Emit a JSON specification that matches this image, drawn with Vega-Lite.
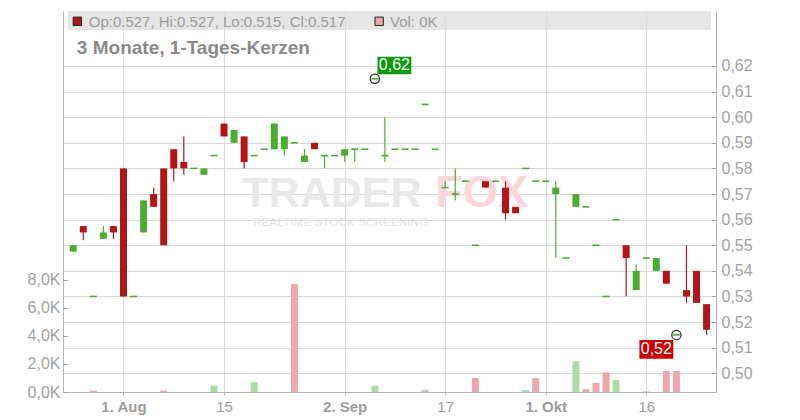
{
  "$schema": "https://vega.github.io/schema/vega-lite/v6.json",
  "width": 653,
  "height": 381,
  "autosize": "none",
  "padding": {"left": 63, "top": 11, "right": 84, "bottom": 28},
  "background": "#ffffff",
  "config": {"view": {"stroke": null}, "font": "Liberation Sans", "axis": {"labelOverlap": false, "labelBound": false, "labelSeparation": 0}},
  "datasets": {
    "candles": [
      {"d":"2024-07-25","i":1,"o":0.5475,"h":0.55,"l":0.5475,"c":0.55,"v":0,"cd":"up","vd":"vup"},
      {"d":"2024-07-26","i":2,"o":0.5575,"h":0.5575,"l":0.552,"c":0.555,"v":0,"cd":"down","vd":"vdown"},
      {"d":"2024-07-29","i":3,"o":0.53,"h":0.53,"l":0.53,"c":0.53,"v":100,"cd":"up","vd":"vdown"},
      {"d":"2024-07-30","i":4,"o":0.5525,"h":0.5575,"l":0.5525,"c":0.555,"v":0,"cd":"up","vd":"vup"},
      {"d":"2024-07-31","i":5,"o":0.5575,"h":0.5575,"l":0.5525,"c":0.555,"v":0,"cd":"down","vd":"vdown"},
      {"d":"2024-08-01","i":6,"o":0.58,"h":0.58,"l":0.53,"c":0.53,"v":0,"cd":"down","vd":"vdown"},
      {"d":"2024-08-02","i":7,"o":0.53,"h":0.53,"l":0.53,"c":0.53,"v":0,"cd":"up","vd":"vup"},
      {"d":"2024-08-05","i":8,"o":0.555,"h":0.5675,"l":0.555,"c":0.5675,"v":0,"cd":"up","vd":"vup"},
      {"d":"2024-08-06","i":9,"o":0.57,"h":0.5725,"l":0.565,"c":0.565,"v":0,"cd":"down","vd":"vdown"},
      {"d":"2024-08-07","i":10,"o":0.58,"h":0.58,"l":0.55,"c":0.55,"v":100,"cd":"down","vd":"vdown"},
      {"d":"2024-08-08","i":11,"o":0.5875,"h":0.5875,"l":0.575,"c":0.58,"v":0,"cd":"down","vd":"vdown"},
      {"d":"2024-08-09","i":12,"o":0.5825,"h":0.5925,"l":0.5775,"c":0.58,"v":0,"cd":"down","vd":"vdown"},
      {"d":"2024-08-12","i":13,"o":0.58,"h":0.58,"l":0.58,"c":0.58,"v":0,"cd":"up","vd":"vup"},
      {"d":"2024-08-13","i":14,"o":0.5775,"h":0.58,"l":0.5775,"c":0.58,"v":0,"cd":"up","vd":"vup"},
      {"d":"2024-08-14","i":15,"o":0.585,"h":0.585,"l":0.585,"c":0.585,"v":450,"cd":"up","vd":"vup"},
      {"d":"2024-08-15","i":16,"o":0.5975,"h":0.5975,"l":0.5925,"c":0.5925,"v":0,"cd":"down","vd":"vdown"},
      {"d":"2024-08-16","i":17,"o":0.59,"h":0.595,"l":0.59,"c":0.595,"v":0,"cd":"up","vd":"vup"},
      {"d":"2024-08-19","i":18,"o":0.5925,"h":0.5925,"l":0.58,"c":0.5825,"v":0,"cd":"down","vd":"vdown"},
      {"d":"2024-08-20","i":19,"o":0.585,"h":0.585,"l":0.585,"c":0.585,"v":700,"cd":"up","vd":"vup"},
      {"d":"2024-08-21","i":20,"o":0.5875,"h":0.5875,"l":0.5875,"c":0.5875,"v":0,"cd":"up","vd":"vup"},
      {"d":"2024-08-22","i":21,"o":0.5875,"h":0.5975,"l":0.5875,"c":0.5975,"v":0,"cd":"up","vd":"vup"},
      {"d":"2024-08-23","i":22,"o":0.5875,"h":0.5925,"l":0.585,"c":0.5925,"v":0,"cd":"up","vd":"vup"},
      {"d":"2024-08-26","i":23,"o":0.59,"h":0.59,"l":0.59,"c":0.59,"v":7700,"cd":"up","vd":"vdown"},
      {"d":"2024-08-27","i":24,"o":0.5825,"h":0.5875,"l":0.5825,"c":0.585,"v":0,"cd":"up","vd":"vup"},
      {"d":"2024-08-28","i":25,"o":0.59,"h":0.59,"l":0.5875,"c":0.5875,"v":0,"cd":"down","vd":"vdown"},
      {"d":"2024-08-29","i":26,"o":0.585,"h":0.585,"l":0.58,"c":0.585,"v":0,"cd":"up","vd":"vup"},
      {"d":"2024-08-30","i":27,"o":0.585,"h":0.585,"l":0.585,"c":0.585,"v":0,"cd":"up","vd":"vup"},
      {"d":"2024-09-02","i":28,"o":0.585,"h":0.5875,"l":0.5825,"c":0.5875,"v":0,"cd":"up","vd":"vup"},
      {"d":"2024-09-03","i":29,"o":0.5875,"h":0.5875,"l":0.5825,"c":0.5875,"v":0,"cd":"up","vd":"vup"},
      {"d":"2024-09-04","i":30,"o":0.5875,"h":0.5875,"l":0.5875,"c":0.5875,"v":0,"cd":"up","vd":"vup"},
      {"d":"2024-09-05","i":31,"o":0.615,"h":0.615,"l":0.615,"c":0.615,"v":450,"cd":"up","vd":"vup"},
      {"d":"2024-09-06","i":32,"o":0.585,"h":0.6,"l":0.5825,"c":0.585,"v":0,"cd":"up","vd":"vup"},
      {"d":"2024-09-09","i":33,"o":0.5875,"h":0.5875,"l":0.5875,"c":0.5875,"v":0,"cd":"up","vd":"vup"},
      {"d":"2024-09-10","i":34,"o":0.5875,"h":0.5875,"l":0.5875,"c":0.5875,"v":0,"cd":"up","vd":"vup"},
      {"d":"2024-09-11","i":35,"o":0.5875,"h":0.5875,"l":0.5875,"c":0.5875,"v":0,"cd":"up","vd":"vup"},
      {"d":"2024-09-12","i":36,"o":0.605,"h":0.605,"l":0.605,"c":0.605,"v":150,"cd":"up","vd":"vup"},
      {"d":"2024-09-13","i":37,"o":0.5875,"h":0.5875,"l":0.5875,"c":0.5875,"v":0,"cd":"up","vd":"vup"},
      {"d":"2024-09-17","i":38,"o":0.5725,"h":0.575,"l":0.5725,"c":0.5725,"v":0,"cd":"up","vd":"vup"},
      {"d":"2024-09-18","i":39,"o":0.57,"h":0.58,"l":0.5675,"c":0.57,"v":0,"cd":"up","vd":"vup"},
      {"d":"2024-09-19","i":40,"o":0.575,"h":0.575,"l":0.575,"c":0.575,"v":0,"cd":"up","vd":"vup"},
      {"d":"2024-09-20","i":41,"o":0.55,"h":0.55,"l":0.55,"c":0.55,"v":1000,"cd":"up","vd":"vdown"},
      {"d":"2024-09-23","i":42,"o":0.575,"h":0.575,"l":0.5725,"c":0.5725,"v":0,"cd":"down","vd":"vdown"},
      {"d":"2024-09-24","i":43,"o":0.575,"h":0.575,"l":0.575,"c":0.575,"v":0,"cd":"up","vd":"vup"},
      {"d":"2024-09-25","i":44,"o":0.5725,"h":0.575,"l":0.56,"c":0.5625,"v":0,"cd":"down","vd":"vdown"},
      {"d":"2024-09-26","i":45,"o":0.565,"h":0.565,"l":0.5625,"c":0.5625,"v":0,"cd":"down","vd":"vdown"},
      {"d":"2024-09-27","i":46,"o":0.58,"h":0.58,"l":0.58,"c":0.58,"v":150,"cd":"up","vd":"vup"},
      {"d":"2024-09-30","i":47,"o":0.575,"h":0.575,"l":0.575,"c":0.575,"v":1000,"cd":"up","vd":"vdown"},
      {"d":"2024-10-01","i":48,"o":0.575,"h":0.575,"l":0.575,"c":0.575,"v":0,"cd":"up","vd":"vup"},
      {"d":"2024-10-02","i":49,"o":0.57,"h":0.575,"l":0.545,"c":0.5725,"v":0,"cd":"up","vd":"vup"},
      {"d":"2024-10-04","i":50,"o":0.545,"h":0.545,"l":0.545,"c":0.545,"v":0,"cd":"up","vd":"vup"},
      {"d":"2024-10-07","i":51,"o":0.565,"h":0.57,"l":0.565,"c":0.57,"v":2200,"cd":"up","vd":"vup"},
      {"d":"2024-10-08","i":52,"o":0.565,"h":0.565,"l":0.565,"c":0.565,"v":200,"cd":"up","vd":"vdown"},
      {"d":"2024-10-09","i":53,"o":0.55,"h":0.55,"l":0.55,"c":0.55,"v":650,"cd":"up","vd":"vdown"},
      {"d":"2024-10-10","i":54,"o":0.53,"h":0.53,"l":0.53,"c":0.53,"v":1400,"cd":"up","vd":"vdown"},
      {"d":"2024-10-11","i":55,"o":0.56,"h":0.56,"l":0.56,"c":0.56,"v":850,"cd":"up","vd":"vup"},
      {"d":"2024-10-14","i":56,"o":0.55,"h":0.55,"l":0.53,"c":0.545,"v":0,"cd":"down","vd":"vdown"},
      {"d":"2024-10-15","i":57,"o":0.5325,"h":0.5425,"l":0.5325,"c":0.54,"v":0,"cd":"up","vd":"vup"},
      {"d":"2024-10-16","i":58,"o":0.545,"h":0.545,"l":0.545,"c":0.545,"v":50,"cd":"up","vd":"vup"},
      {"d":"2024-10-17","i":59,"o":0.54,"h":0.545,"l":0.54,"c":0.545,"v":0,"cd":"up","vd":"vup"},
      {"d":"2024-10-18","i":60,"o":0.54,"h":0.54,"l":0.535,"c":0.535,"v":1500,"cd":"down","vd":"vdown"},
      {"d":"2024-10-21","i":61,"o":0.515,"h":0.515,"l":0.515,"c":0.515,"v":1500,"cd":"up","vd":"vdown"},
      {"d":"2024-10-22","i":62,"o":0.5325,"h":0.55,"l":0.5275,"c":0.53,"v":0,"cd":"down","vd":"vdown"},
      {"d":"2024-10-23","i":63,"o":0.54,"h":0.54,"l":0.5275,"c":0.5275,"v":0,"cd":"down","vd":"vdown"},
      {"d":"2024-10-24","i":64,"o":0.527,"h":0.527,"l":0.515,"c":0.517,"v":0,"cd":"down","vd":"vdown"}
    ],
    "one": [{"n": 1}]
  },
  "resolve": {"scale": {"y": "independent"}, "axis": {"y": "independent"}},
  "layer": [
    {
      "data": {"name": "candles"},
      "transform": [{"filter": "datum.v > 0"}],
      "mark": {"type": "bar", "orient": "vertical", "size": 7},
      "encoding": {
        "x": {"field": "i", "type": "quantitative",
          "scale": {"domain": [0.48, 64.44], "nice": false, "zero": false},
          "axis": {"values": [6, 16, 28, 38, 48, 58],
            "labelExpr": "datum.value == 6 ? '1. Aug' : datum.value == 16 ? '15' : datum.value == 28 ? '2. Sep' : datum.value == 38 ? '17' : datum.value == 48 ? '1. Okt' : '16'",
            "title": null, "grid": true, "gridColor": "#dadada", "domainColor": "#b4b4b4", "tickColor": "#b4b4b4",
            "tickSize": 3, "labelColor": "#9c9c9c", "labelFontSize": 15, "labelFont": "Liberation Sans", "labelPadding": 4,
            "labelFontWeight": {"condition": {"test": "datum.value == 6 || datum.value == 28 || datum.value == 48", "value": "bold"}, "value": "normal"},
            "labelFlush": false, "labelOverlap": false}},
        "y": {"field": "v", "type": "quantitative",
          "scale": {"domain": [0, 27214], "nice": false, "zero": true},
          "axis": {"orient": "left", "values": [0, 2000, 4000, 6000, 8000],
            "labelExpr": "replace(format(datum.value / 1000, '.1f'), '.', ',') + 'K'",
            "title": null, "grid": false, "domainColor": "#b4b4b4", "tickColor": "#a0a0a0", "tickSize": -4, "labelPadding": 7,
            "labelOverlap": false, "labelColor": "#a2a2a2", "labelFontSize": 16, "labelFont": "Liberation Sans"}},
        "color": {"field": "vd", "type": "nominal", "legend": null,
          "scale": {"domain": ["up", "down", "vup", "vdown"], "range": ["#4aad2f", "#b31616", "#abdca6", "#efa6ad"]}}
      }
    },
    {
      "data": {"name": "candles"},
      "transform": [{"filter": "datum.h > datum.l"}],
      "mark": {"type": "rule", "strokeWidth": 0},
      "encoding": {
        "x": {"field": "i", "type": "quantitative"},
        "y": {"field": "l", "type": "quantitative",
          "scale": {"domain": [0.4927, 0.64147], "nice": false, "zero": false},
          "axis": {"orient": "right", "values": [0.5, 0.51, 0.52, 0.53, 0.54, 0.55, 0.56, 0.57, 0.58, 0.59, 0.6, 0.61, 0.62],
            "tickCount": 13,
            "labelExpr": "replace(format(datum.value, '.2f'), '.', ',')",
            "title": null, "grid": true, "gridColor": "#dadada", "domainColor": "#b4b4b4", "tickColor": "#a0a0a0",
            "tickSize": -4, "labelPadding": 9, "labelOverlap": false, "labelColor": "#a2a2a2", "labelFontSize": 16, "labelFont": "Liberation Sans"}},
        "y2": {"field": "h"}
      }
    },
    {
      "layer": [
        {
          "data": {"name": "one"},
          "mark": {"type": "rect", "color": "#dcdcdc", "opacity": 0.75},
          "encoding": {
            "x": {"datum": 0.48, "type": "quantitative"},
            "x2": {"datum": 64.44},
            "y": {"datum": 0.64147, "type": "quantitative", "scale": {"domain": [0.4927, 0.64147], "nice": false, "zero": false}, "axis": {"orient": "right", "labels": false, "ticks": false, "domain": false, "grid": false, "title": null}},
            "y2": {"datum": 0.63406}
          }
        },
        {
          "data": {"name": "one"},
          "mark": {"type": "text", "text": "TRADER", "align": "left", "baseline": "alphabetic", "fontSize": 43, "fontWeight": "bold", "font": "Liberation Sans", "color": "#e8e8e8"},
          "encoding": {"x": {"datum": 17.82, "type": "quantitative"}, "y": {"datum": 0.56494, "type": "quantitative"}}
        },
        {
          "data": {"name": "one"},
          "mark": {"type": "text", "text": "FOX", "align": "left", "baseline": "alphabetic", "fontSize": 45, "fontWeight": "bold", "font": "Liberation Sans", "color": "#fcd6da"},
          "encoding": {"x": {"datum": 37.0, "type": "quantitative"}, "y": {"datum": 0.56494, "type": "quantitative"}}
        },
        {
          "data": {"name": "one"},
          "mark": {"type": "text", "text": "REALTIME STOCK SCREENING", "align": "left", "baseline": "alphabetic", "fontSize": 11.8, "font": "Liberation Sans", "color": "#e2e2e2"},
          "encoding": {"x": {"datum": 18.89, "type": "quantitative"}, "y": {"datum": 0.55752, "type": "quantitative"}}
        },
        {
          "data": {"name": "candles"},
          "transform": [{"filter": "datum.h > datum.l"}],
          "mark": {"type": "rule", "strokeWidth": 1.2},
          "encoding": {
            "x": {"field": "i", "type": "quantitative"},
            "y": {"field": "l", "type": "quantitative"},
            "y2": {"field": "h"},
            "color": {"field": "cd", "type": "nominal", "legend": null}
          }
        },
        {
          "data": {"name": "candles"},
          "transform": [{"filter": "datum.o != datum.c"}],
          "mark": {"type": "bar", "orient": "vertical", "size": 7},
          "encoding": {
            "x": {"field": "i", "type": "quantitative"},
            "y": {"field": "o", "type": "quantitative"},
            "y2": {"field": "c"},
            "color": {"field": "cd", "type": "nominal", "legend": null}
          }
        },
        {
          "data": {"name": "candles"},
          "transform": [{"filter": "datum.o == datum.c"}],
          "mark": {"type": "tick", "orient": "horizontal", "size": 7, "thickness": 1.6, "opacity": 1},
          "encoding": {
            "x": {"field": "i", "type": "quantitative"},
            "y": {"field": "c", "type": "quantitative"},
            "color": {"field": "cd", "type": "nominal", "legend": null}
          }
        },
        {
          "data": {"name": "one"},
          "mark": {"type": "point", "shape": "circle", "filled": false, "size": 85, "stroke": "#222222", "strokeWidth": 1.2, "opacity": 1},
          "encoding": {"x": {"datum": 31, "type": "quantitative"}, "y": {"datum": 0.615, "type": "quantitative"}}
        },
        {
          "data": {"name": "one"},
          "mark": {"type": "point", "shape": "circle", "filled": false, "size": 85, "stroke": "#222222", "strokeWidth": 1.2, "opacity": 1},
          "encoding": {"x": {"datum": 61, "type": "quantitative"}, "y": {"datum": 0.515, "type": "quantitative"}}
        },
        {
          "data": {"name": "one"},
          "mark": {"type": "rect", "color": "#0b9a0b"},
          "encoding": {
            "x": {"datum": 31.26, "type": "quantitative"}, "x2": {"datum": 34.63},
            "y": {"datum": 0.62363, "type": "quantitative"}, "y2": {"datum": 0.61676}
          }
        },
        {
          "data": {"name": "one"},
          "mark": {"type": "text", "text": "0,62", "align": "center", "baseline": "middle", "fontSize": 16, "font": "Liberation Sans", "color": "#ffffff"},
          "encoding": {"x": {"datum": 32.95, "type": "quantitative"}, "y": {"datum": 0.6202, "type": "quantitative"}}
        },
        {
          "data": {"name": "one"},
          "mark": {"type": "rect", "color": "#cc0000"},
          "encoding": {
            "x": {"datum": 57.32, "type": "quantitative"}, "x2": {"datum": 60.69},
            "y": {"datum": 0.51301, "type": "quantitative"}, "y2": {"datum": 0.50571}
          }
        },
        {
          "data": {"name": "one"},
          "mark": {"type": "text", "text": "0,52", "align": "center", "baseline": "middle", "fontSize": 16, "font": "Liberation Sans", "color": "#ffffff"},
          "encoding": {"x": {"datum": 59.0, "type": "quantitative"}, "y": {"datum": 0.50938, "type": "quantitative"}}
        },
        {
          "data": {"name": "one"},
          "mark": {"type": "text", "text": "3 Monate, 1-Tages-Kerzen", "align": "left", "baseline": "alphabetic", "fontSize": 19, "fontWeight": "bold", "font": "Liberation Sans", "color": "#8a8a8a"},
          "encoding": {"x": {"datum": 1.36, "type": "quantitative"}, "y": {"datum": 0.62469, "type": "quantitative"}}
        },
        {
          "data": {"name": "one"},
          "mark": {"type": "point", "shape": "square", "filled": true, "size": 70, "color": "#b31616", "stroke": "#222222", "strokeWidth": 1, "opacity": 1},
          "encoding": {"x": {"datum": 1.41, "type": "quantitative"}, "y": {"datum": 0.63746, "type": "quantitative"}}
        },
        {
          "data": {"name": "one"},
          "mark": {"type": "text", "text": "Op:0.527, Hi:0.527, Lo:0.515, Cl:0.517", "align": "left", "baseline": "alphabetic", "fontSize": 15, "font": "Liberation Sans", "color": "#9c9c9c"},
          "encoding": {"x": {"datum": 2.54, "type": "quantitative"}, "y": {"datum": 0.63535, "type": "quantitative"}}
        },
        {
          "data": {"name": "one"},
          "mark": {"type": "point", "shape": "square", "filled": true, "size": 70, "color": "#efa6ad", "stroke": "#222222", "strokeWidth": 1, "opacity": 1},
          "encoding": {"x": {"datum": 31.43, "type": "quantitative"}, "y": {"datum": 0.63746, "type": "quantitative"}}
        },
        {
          "data": {"name": "one"},
          "mark": {"type": "text", "text": "Vol: 0K", "align": "left", "baseline": "alphabetic", "fontSize": 15, "font": "Liberation Sans", "color": "#9c9c9c"},
          "encoding": {"x": {"datum": 32.51, "type": "quantitative"}, "y": {"datum": 0.63535, "type": "quantitative"}}
        }
      ]
    }
  ]
}
